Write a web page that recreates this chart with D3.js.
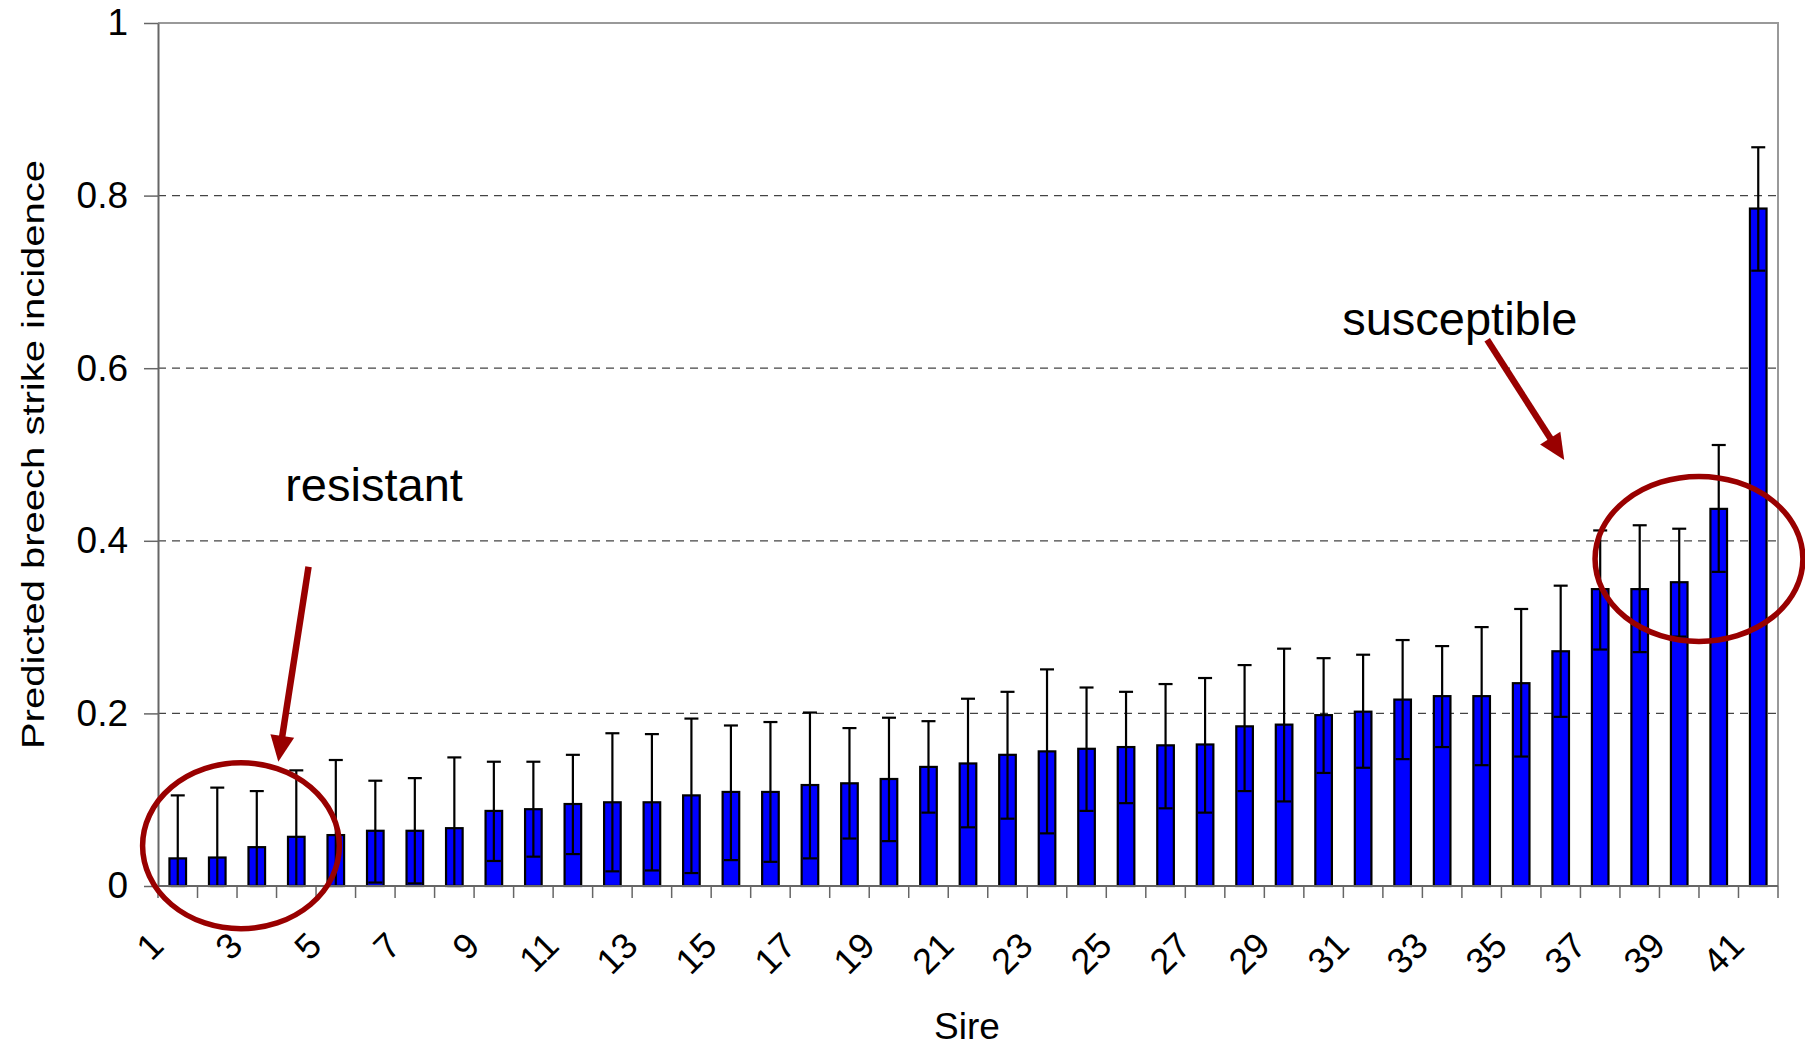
<!DOCTYPE html>
<html>
<head>
<meta charset="utf-8">
<script src="https://cdn.jsdelivr.net/npm/d3@7"></script>
<style>
  html, body { margin: 0; padding: 0; background: #fff; }
  svg { display: block; font-family: "Liberation Sans", Arial, sans-serif; }
</style>
</head>
<body>
<svg id="chart" width="1805" height="1047"></svg>
<script>
// Sire identifiers along the x axis
const sires = [1,2,3,4,5,6,7,8,9,10,11,12,13,14,15,16,17,18,19,20,
               21,22,23,24,25,26,27,28,29,30,31,32,33,34,35,36,37,38,39,40,41];

// Predicted breech strike incidence per sire
const incidence = [0.032,0.033,0.045,0.057,0.059,0.064,0.064,0.067,0.087,0.089,
                   0.095,0.097,0.097,0.105,0.109,0.109,0.117,0.119,0.124,0.138,
                   0.142,0.152,0.156,0.159,0.161,0.163,0.164,0.185,0.187,0.198,
                   0.202,0.216,0.220,0.220,0.235,0.272,0.344,0.344,0.352,0.437,0.785];

// Upper and lower limits of the error bars
const upperLimit = [0.105,0.114,0.110,0.134,0.146,0.122,0.125,0.149,0.144,0.144,
                    0.152,0.177,0.176,0.194,0.186,0.190,0.201,0.183,0.195,0.191,
                    0.217,0.225,0.251,0.230,0.225,0.234,0.241,0.256,0.275,0.264,
                    0.268,0.285,0.278,0.300,0.321,0.348,0.412,0.418,0.414,0.511,0.856];
const lowerLimit = [0.000,0.000,0.000,0.000,0.000,0.004,0.003,0.000,0.029,0.034,
                    0.037,0.017,0.018,0.015,0.030,0.028,0.032,0.055,0.052,0.085,
                    0.068,0.078,0.061,0.087,0.096,0.090,0.085,0.110,0.098,0.131,
                    0.137,0.147,0.161,0.140,0.150,0.196,0.274,0.271,0.289,0.364,0.713];

// Y axis ticks and labels
const yTicks = [0, 0.2, 0.4, 0.6, 0.8, 1];
const yTickLabels = ["0", "0.2", "0.4", "0.6", "0.8", "1"];

// Labelled sires on the x axis (every other one)
const xTickLabels = [1,3,5,7,9,11,13,15,17,19,21,23,25,27,29,31,33,35,37,39,41];

// Annotation callouts, positioned in category-slot / value units
const calloutText = [
  { text: "resistant",   slot: 3.22,  value: 0.446 },
  { text: "susceptible", slot: 29.97, value: 0.638 }
];
const calloutArrows = [
  { fromSlot: 3.81,  fromValue: 0.370, toSlot: 3.045, toValue: 0.144 },
  { fromSlot: 33.64, fromValue: 0.633, toSlot: 35.59, toValue: 0.4936 }
];
const calloutRings = [
  { slot: 2.10,  value: 0.0466, rSlot: 2.49, rValue: 0.0962 },
  { slot: 39.0,  value: 0.379,  rSlot: 2.63, rValue: 0.0956 }
];

const rows = sires.map((s, i) => ({
  sire: s, v: incidence[i], hi: upperLimit[i], lo: lowerLimit[i]
}));

const svg = d3.select("#chart");
const plot = { left: 158, right: 1778, top: 23, bottom: 886 };
const dark = "#990000";

const x = d3.scaleBand()
  .domain(sires)
  .range([plot.left, plot.right])
  .paddingInner(0.58)
  .paddingOuter(0.29);

const slot = d3.scaleLinear().domain([0, sires.length]).range([plot.left, plot.right]);

const y = d3.scaleLinear().domain([0, 1]).range([plot.bottom, plot.top]);

// Dashed gridlines
svg.append("g")
  .selectAll("line")
  .data(yTicks.filter(t => t > 0 && t < 1))
  .join("line")
  .attr("x1", plot.left).attr("x2", plot.right)
  .attr("y1", d => y(d)).attr("y2", d => y(d))
  .attr("stroke", "#444")
  .attr("stroke-width", 1.2)
  .attr("stroke-dasharray", "8,6");

// Plot border (top and right)
svg.append("path")
  .attr("d", `M${plot.left},${y(1)}H${plot.right}V${plot.bottom}`)
  .attr("fill", "none")
  .attr("stroke", "#999")
  .attr("stroke-width", 2);

// Bars
svg.append("g")
  .selectAll("rect")
  .data(rows)
  .join("rect")
  .attr("x", d => x(d.sire))
  .attr("y", d => y(d.v))
  .attr("width", x.bandwidth())
  .attr("height", d => y(0) - y(d.v))
  .attr("fill", "#0000ff")
  .attr("stroke", "#000")
  .attr("stroke-width", 2.2);

// Error bars
const capHalf = 7;
const eb = svg.append("g").attr("stroke", "#000").attr("stroke-width", 2.2);
rows.forEach(d => {
  const cx = x(d.sire) + x.bandwidth() / 2;
  eb.append("line").attr("x1", cx).attr("x2", cx).attr("y1", y(d.lo)).attr("y2", y(d.hi));
  eb.append("line").attr("x1", cx - capHalf).attr("x2", cx + capHalf).attr("y1", y(d.hi)).attr("y2", y(d.hi));
  eb.append("line").attr("x1", cx - capHalf).attr("x2", cx + capHalf).attr("y1", y(d.lo)).attr("y2", y(d.lo));
});

// Y axis
const yAxis = d3.axisLeft(y)
  .tickValues(yTicks)
  .tickFormat((d, i) => yTickLabels[i])
  .tickSizeInner(14)
  .tickSizeOuter(0)
  .tickPadding(16);
const gy = svg.append("g").attr("transform", `translate(${plot.left},0)`).call(yAxis);
gy.select(".domain").attr("stroke", "#666").attr("stroke-width", 2);
gy.selectAll(".tick line").attr("stroke", "#666").attr("stroke-width", 1.5);
gy.selectAll(".tick text")
  .attr("font-size", 37)
  .attr("font-family", "'Liberation Sans', Arial, sans-serif")
  .attr("fill", "#000");

// X axis line and category boundary ticks
svg.append("line")
  .attr("x1", plot.left).attr("x2", plot.right)
  .attr("y1", y(0)).attr("y2", y(0))
  .attr("stroke", "#666").attr("stroke-width", 2);
svg.append("g")
  .selectAll("line")
  .data(d3.range(sires.length + 1))
  .join("line")
  .attr("x1", d => slot(d)).attr("x2", d => slot(d))
  .attr("y1", y(0)).attr("y2", y(0) + 12)
  .attr("stroke", "#666").attr("stroke-width", 1.5);

// Rotated sire labels
svg.append("g")
  .selectAll("text")
  .data(xTickLabels)
  .join("text")
  .attr("transform", d => `translate(${x(d) + x.bandwidth() / 2 - 21},${y(0) + 53}) rotate(-45)`)
  .attr("text-anchor", "end")
  .attr("dy", "0.35em")
  .attr("font-size", 36)
  .text(d => d);

// Axis titles
svg.append("text")
  .attr("x", 967).attr("y", 1039)
  .attr("text-anchor", "middle")
  .attr("font-size", 37)
  .text("Sire");

svg.append("text")
  .attr("transform", `translate(44,${(plot.top + plot.bottom) / 2}) rotate(-90) scale(1,0.8)`)
  .attr("text-anchor", "middle")
  .attr("font-size", 40)
  .text("Predicted breech strike incidence");

// Callout rings
svg.append("g")
  .selectAll("ellipse")
  .data(calloutRings)
  .join("ellipse")
  .attr("cx", d => slot(d.slot))
  .attr("cy", d => y(d.value))
  .attr("rx", d => slot(d.rSlot) - slot(0))
  .attr("ry", d => y(0) - y(d.rValue))
  .attr("fill", "none")
  .attr("stroke", dark)
  .attr("stroke-width", 5.5);

// Callout arrows
const arrows = svg.append("g");
calloutArrows.forEach(a => {
  const x1 = slot(a.fromSlot), y1 = y(a.fromValue);
  const x2 = slot(a.toSlot), y2 = y(a.toValue);
  const len = Math.hypot(x2 - x1, y2 - y1);
  const ux = (x2 - x1) / len, uy = (y2 - y1) / len;
  const headLen = 26, headHalf = 12;
  const bx = x2 - ux * headLen, by = y2 - uy * headLen;
  arrows.append("line")
    .attr("x1", x1).attr("y1", y1).attr("x2", bx + ux * 2).attr("y2", by + uy * 2)
    .attr("stroke", dark).attr("stroke-width", 6.5);
  arrows.append("path")
    .attr("d", `M${x2},${y2}L${bx - uy * headHalf},${by + ux * headHalf}L${bx + uy * headHalf},${by - ux * headHalf}Z`)
    .attr("fill", dark);
});

// Callout labels
svg.append("g")
  .selectAll("text")
  .data(calloutText)
  .join("text")
  .attr("x", d => slot(d.slot))
  .attr("y", d => y(d.value))
  .attr("font-size", 47)
  .text(d => d.text);
</script>
</body>
</html>
